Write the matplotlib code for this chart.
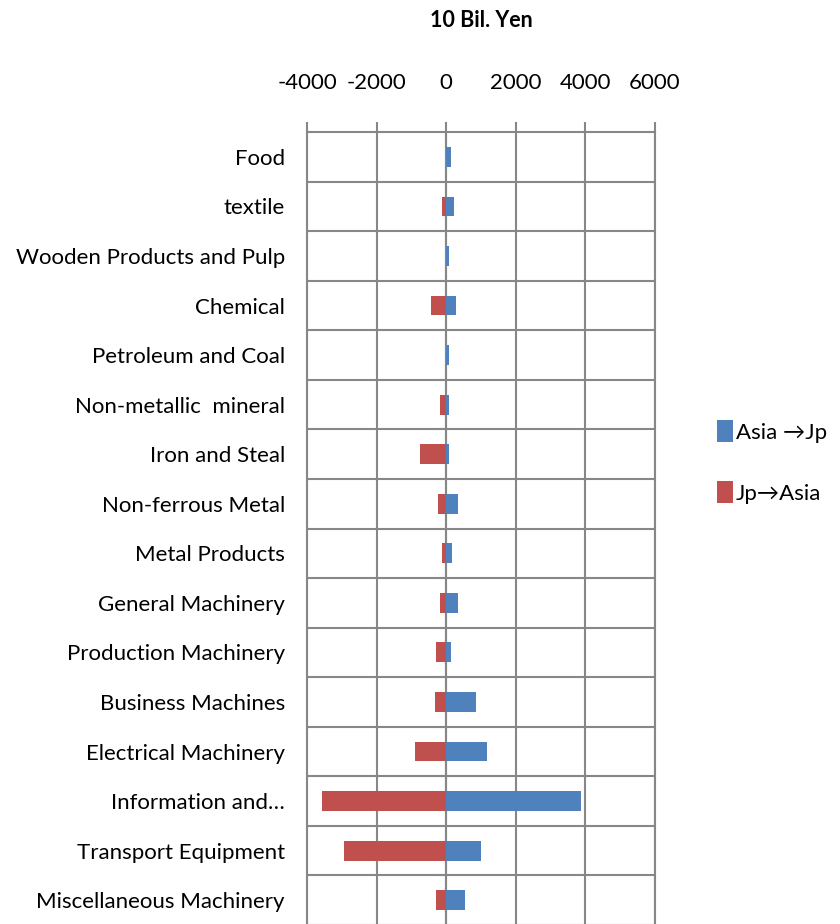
import matplotlib
matplotlib.use("Agg")
import matplotlib.pyplot as plt

# sector labels, top to bottom
sectors = ["Food", "textile", "Wooden Products and Pulp", "Chemical",
           "Petroleum and Coal", "Non-metallic  mineral", "Iron and Steal",
           "Non-ferrous Metal", "Metal Products", "General Machinery",
           "Production Machinery", "Business Machines", "Electrical Machinery",
           "Information and\u2026", "Transport Equipment", "Miscellaneous Machinery"]

# 10 bil. yen
asia_to_jp = [140, 240, 80, 290, 80, 80, 80, 345, 180, 345, 135, 860, 1180, 3880, 1015, 545]
jp_to_asia = [0, -125, 0, -430, 0, -170, -750, -230, -125, -170, -280, -325, -900, -3555, -2930, -280]

x_ticks = [-4000, -2000, 0, 2000, 4000, 6000]

BLUE = "#4F81BD"
RED = "#C0504D"
GRID = "#878787"

plt.rcParams["font.family"] = ["Lato", "DejaVu Sans"]

fig = plt.figure(figsize=(8.4, 9.24), dpi=100)
ax = fig.add_axes([0.3655, -0.001, 0.414, 0.858])

pos = list(range(len(sectors)))
ax.barh(pos, asia_to_jp, height=0.4, color=BLUE, label="Asia \u2192Jp", zorder=3)
ax.barh(pos, jp_to_asia, height=0.4, color=RED, label="Jp\u2192Asia", zorder=3)

ax.set_xlim(-4000, 6000)
ax.set_ylim(len(sectors) - 0.5, -0.5)

# x axis on top
ax.xaxis.tick_top()
ax.set_xticks(x_ticks)
ax.set_xticklabels([str(v) for v in x_ticks], fontsize=16)
ax.tick_params(axis="x", direction="out", length=7.5, width=1.5, color=GRID, pad=21)
ax.grid(axis="x", color=GRID, linewidth=1.5, zorder=1)

# category boundaries as horizontal lines
ax.set_yticks(pos)
ax.set_yticklabels(sectors, fontsize=16)
ax.set_yticks([p + 0.5 for p in pos[:-1]], minor=True)
ax.tick_params(axis="y", which="major", length=0, pad=16)
ax.tick_params(axis="y", which="minor", length=0)
ax.grid(axis="y", which="minor", color=GRID, linewidth=1.5, zorder=1)

for s in ax.spines.values():
    s.set_color(GRID)
    s.set_linewidth(1.5)

# small ticks on the zero line
sec = ax.secondary_yaxis(0.4)
sec.set_yticks([p + 0.5 for p in pos[:-1]])
sec.set_yticklabels([])
sec.tick_params(length=5, width=1.5, color="#B0B0B0")
sec.spines["left"].set_color(GRID)
sec.spines["left"].set_linewidth(1.5)

fig.text(0.5726, 0.978, "10 Bil. Yen", ha="center", va="center",
         fontsize=15.5, fontweight="bold")

handles, labels = ax.get_legend_handles_labels()
fig.legend(handles, labels, loc="center left", bbox_to_anchor=(0.83, 0.5),
           frameon=False, fontsize=16, handlelength=0.7, handleheight=1.1,
           handletextpad=0.15, labelspacing=1.75)

fig.savefig("out.png", dpi=100)
